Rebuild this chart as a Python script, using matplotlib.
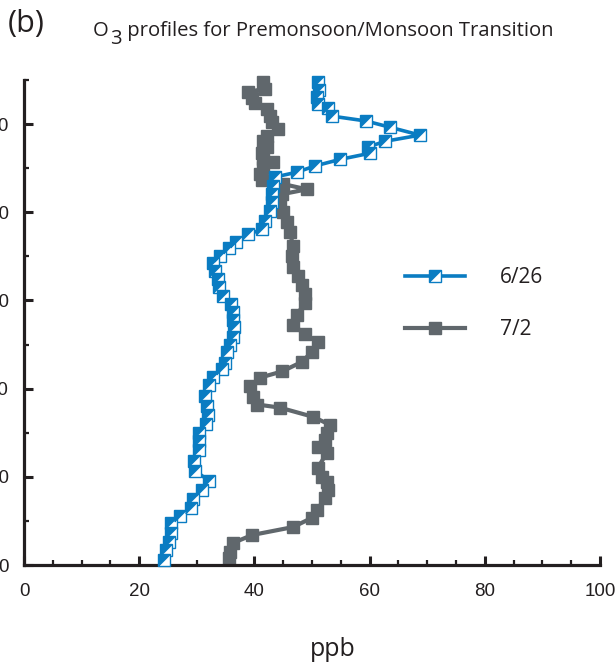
import matplotlib
matplotlib.use("Agg")
import matplotlib.pyplot as plt
from matplotlib.ticker import MultipleLocator, FuncFormatter
from matplotlib.legend_handler import HandlerTuple

# ---- data (O3 in ppb vs altitude in km) ----
o3_0626 = [51.0, 51.2, 50.9, 51.0, 52.8, 53.5, 59.4, 63.5, 68.75, 62.7, 59.7, 60.1,
           54.9, 50.5, 47.4, 43.6, 43.2, 43.1, 43.1, 42.7, 41.8, 41.3, 38.9, 36.8,
           35.6, 34.0, 32.8, 33.2, 33.7, 33.9, 34.5, 35.9, 36.3, 36.3, 36.5, 36.3,
           35.8, 35.2, 34.9, 34.4, 32.8, 32.1, 31.4, 31.8, 31.9, 31.6, 30.4, 30.4,
           30.4, 29.5, 29.7, 32.1, 30.9, 29.3, 29.0, 27.1, 25.5, 25.5, 25.2, 24.7, 24.3]
alt_0626 = [10.95, 10.77, 10.61, 10.45, 10.36, 10.18, 10.07, 9.93, 9.75, 9.61, 9.48, 9.34,
            9.20, 9.05, 8.91, 8.80, 8.59, 8.41, 8.23, 8.02, 7.80, 7.61, 7.50, 7.32,
            7.18, 7.00, 6.86, 6.66, 6.48, 6.30, 6.09, 5.91, 5.73, 5.55, 5.39, 5.18,
            5.00, 4.82, 4.59, 4.45, 4.27, 4.09, 3.84, 3.61, 3.41, 3.20, 3.00, 2.82,
            2.61, 2.36, 2.14, 1.91, 1.70, 1.50, 1.30, 1.11, 0.95, 0.73, 0.52, 0.34, 0.11]

o3_0702 = [41.5, 41.8, 38.9, 39.6, 40.1, 42.2, 42.7, 43.1, 44.1, 42.2, 41.5, 42.2,
           41.3, 41.5, 43.2, 41.5, 41.0, 41.3, 45.0, 49.1, 44.8, 44.4, 45.0, 45.7,
           46.2, 46.7, 46.5, 46.7, 47.6, 48.3, 48.8, 48.8, 47.4, 46.7, 48.8, 51.0,
           50.0, 48.3, 44.8, 41.0, 39.2, 39.8, 40.5, 44.4, 50.2, 53.1, 52.6, 52.3,
           51.0, 52.6, 51.0, 51.7, 52.6, 52.8, 52.3, 50.9, 50.0, 46.7, 39.6, 36.3,
           35.8, 35.6]
alt_0702 = [10.95, 10.80, 10.73, 10.59, 10.48, 10.34, 10.18, 10.05, 9.89, 9.73, 9.61, 9.48,
            9.34, 9.20, 9.14, 9.02, 8.86, 8.73, 8.64, 8.52, 8.41, 8.23, 8.00, 7.77,
            7.55, 7.23, 7.00, 6.77, 6.55, 6.36, 6.14, 5.95, 5.68, 5.45, 5.23, 5.05,
            4.84, 4.61, 4.39, 4.25, 4.05, 3.80, 3.64, 3.57, 3.36, 3.18, 3.00, 2.84,
            2.68, 2.55, 2.20, 2.00, 1.89, 1.70, 1.52, 1.25, 1.07, 0.86, 0.68, 0.50,
            0.30, 0.16]

series_labels = ['6/26', '7/2']
x_ticks = [0, 20, 40, 60, 80, 100]
y_ticks = [0, 2, 4, 6, 8, 10]
title_parts = ['O', '3', ' profiles for Premonsoon/Monsoon Transition']
panel = '(b)'
xlabel = 'ppb'

BLUE = '#0a7cc2'
GREY = '#60676c'
INK = '#231f20'

W, H = 616, 667
fig = plt.figure(figsize=(W / 100, H / 100), dpi=100)
ax = fig.add_axes([24 / W, 1 - 565 / H, 576 / W, 485 / H])

tri = [(-1, -1), (-1, 1), (1, 1), (-1, -1)]

l1, = ax.plot(o3_0626, alt_0626, color=BLUE, lw=2.6, marker='s', ms=8.0,
              mfc='white', mec=BLUE, mew=1.0, zorder=3, clip_on=False)
t1, = ax.plot(o3_0626, alt_0626, ls='none', marker=tri, ms=8.0, mfc=BLUE,
              mec=BLUE, mew=0.6, zorder=4, clip_on=False)
l2, = ax.plot(o3_0702, alt_0702, color=GREY, lw=3.0, marker='s', ms=8.6,
              mfc=GREY, mec=GREY, zorder=2, clip_on=False)

ax.set_xlim(0, 100)
ax.set_ylim(0, 11)
for s in ('top', 'right'):
    ax.spines[s].set_visible(False)
for s in ('left', 'bottom'):
    ax.spines[s].set_linewidth(2.3)
    ax.spines[s].set_color(INK)

ax.set_xticks(x_ticks)
ax.set_yticks(y_ticks)
ax.xaxis.set_minor_locator(MultipleLocator(5))
ax.yaxis.set_minor_locator(MultipleLocator(1))
ax.yaxis.set_major_formatter(FuncFormatter(lambda v, p: f"{int(round(v * 1000))}"))
ax.tick_params(which='major', direction='in', length=6.5, width=2.2, color=INK,
               labelsize=13.5, labelcolor=INK, pad=11)
ax.tick_params(axis='x', which='major', pad=13)
ax.tick_params(which='minor', direction='in', length=3.8, width=1.6, color=INK)
for lab in ax.get_xticklabels() + ax.get_yticklabels():
    lab.set_fontfamily('Liberation Sans')

leg = ax.legend([(l1, t1), l2], series_labels,
                handler_map={tuple: HandlerTuple(ndivide=1)},
                loc='upper left', bbox_to_anchor=(405 / W, 1 - 267 / H),
                bbox_transform=fig.transFigure, frameon=False, borderpad=0,
                borderaxespad=0, handlelength=2.9, handletextpad=1.65,
                labelspacing=1.5, prop={'family': 'Open Sans', 'size': 15})
for txt in leg.get_texts():
    txt.set_color(INK)

# title: O with a full-size lowered "3"
tfs = 14.6
fig.text(93 / W, 1 - 36 / H, title_parts[0], fontsize=tfs, family='Open Sans',
         color=INK, ha='left', va='baseline')
fig.text(110 / W, 1 - 44 / H, title_parts[1], fontsize=tfs, family='Open Sans',
         color=INK, ha='left', va='baseline')
fig.text(122 / W, 1 - 36 / H, title_parts[2], fontsize=tfs, family='Open Sans',
         color=INK, ha='left', va='baseline')

fig.text(8 / W, 1 - 24 / H, panel, fontsize=22, family='Open Sans',
         color=INK, ha='left', va='center')
fig.text(333 / W, 1 - 650 / H, xlabel, fontsize=18, family='Open Sans',
         color=INK, ha='center', va='center')

fig.savefig('out.png', dpi=100)
